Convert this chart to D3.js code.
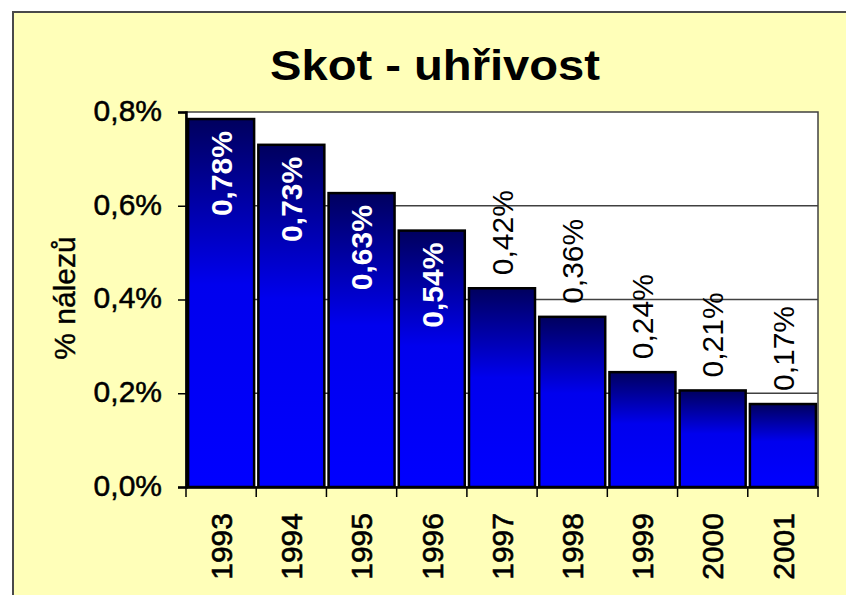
<!DOCTYPE html>
<html>
<head>
<meta charset="utf-8">
<script src="https://cdn.jsdelivr.net/npm/d3@7"></script>
<style>
  body { margin: 0; background: #fff; }
  svg { display: block; font-family: "Liberation Sans", Arial, sans-serif; }
</style>
</head>
<body>
<svg id="chart"></svg>
<script>
let years = ['1993', '1994', '1995', '1996', '1997', '1998', '1999', '2000', '2001']
let values = [0.785, 0.73, 0.627, 0.547, 0.424, 0.363, 0.245, 0.206, 0.177]
let valueLabels = ['0,78%', '0,73%', '0,63%', '0,54%', '0,42%', '0,36%', '0,24%', '0,21%', '0,17%']
let yTicks = [0, 0.2, 0.4, 0.6, 0.8]
let yTickLabels = ['0,0%', '0,2%', '0,4%', '0,6%', '0,8%']
let insideCount = 4

let width = 846
let height = 595
let plot = { left: 186, right: 818, top: 112, bottom: 487 }

let svg = d3.select('#chart')
  .attr('width', width)
  .attr('height', height)

// frame
svg.append('rect')
  .attr('x', 13).attr('y', 12)
  .attr('width', 860).attr('height', 620)
  .attr('fill', '#ffffb9')
  .attr('stroke', '#4a4a4a')
  .attr('stroke-width', 2)

let defs = svg.append('defs')
let grad = defs.append('linearGradient')
  .attr('id', 'barGrad')
  .attr('x1', 0).attr('y1', 0).attr('x2', 0).attr('y2', 1)
grad.append('stop').attr('offset', '0%').attr('stop-color', '#00005e')
grad.append('stop').attr('offset', '45%').attr('stop-color', '#0000ee')
grad.append('stop').attr('offset', '100%').attr('stop-color', '#0000ff')

let xScale = d3.scaleBand()
  .domain(years)
  .range([plot.left, plot.right])
  .paddingInner(0.06)
  .paddingOuter(0.03)

let yScale = d3.scaleLinear()
  .domain([0, 0.8])
  .range([plot.bottom, plot.top])

// plot area
svg.append('rect')
  .attr('x', plot.left).attr('y', plot.top)
  .attr('width', plot.right - plot.left)
  .attr('height', plot.bottom - plot.top)
  .attr('fill', '#ffffff')
  .attr('stroke', '#404040')
  .attr('stroke-width', 1.5)

// gridlines
svg.append('g')
  .selectAll('line')
  .data(yTicks.filter(d => d > 0 && d < 0.8))
  .enter()
  .append('line')
  .attr('x1', plot.left).attr('x2', plot.right)
  .attr('y1', d => yScale(d)).attr('y2', d => yScale(d))
  .attr('stroke', '#404040')
  .attr('stroke-width', 1.5)

// bars
svg.append('g')
  .selectAll('rect')
  .data(values)
  .enter()
  .append('rect')
  .attr('x', (d, i) => xScale(years[i]))
  .attr('y', d => yScale(d))
  .attr('width', xScale.bandwidth())
  .attr('height', d => plot.bottom - yScale(d))
  .attr('fill', 'url(#barGrad)')
  .attr('stroke', '#000')
  .attr('stroke-width', 2.5)

// value labels
svg.append('g')
  .selectAll('text')
  .data(values)
  .enter()
  .append('text')
  .attr('transform', (d, i) => {
    let cx = xScale(years[i]) + xScale.bandwidth() / 2
    let y = i < insideCount ? yScale(d) + 12 : yScale(d) - 13
    return 'translate(' + cx + ',' + y + ') rotate(-90)'
  })
  .attr('dy', '0.36em')
  .attr('text-anchor', (d, i) => i < insideCount ? 'end' : 'start')
  .attr('font-size', 30)
  .attr('font-weight', (d, i) => i < insideCount ? 'bold' : 'normal')
  .attr('fill', (d, i) => i < insideCount ? '#fff' : '#000')
  .text((d, i) => valueLabels[i])

// y axis
let yAxis = d3.axisLeft(yScale)
  .tickValues(yTicks)
  .tickFormat((d, i) => yTickLabels[i])
  .tickSize(8)
  .tickPadding(16)

let gy = svg.append('g')
  .attr('transform', 'translate(' + plot.left + ',0)')
  .call(yAxis)
gy.select('.domain').attr('stroke', '#000').attr('stroke-width', 2.5)
gy.selectAll('.tick line').attr('stroke', '#000').attr('stroke-width', 1.5)
gy.selectAll('.tick text')
  .attr('font-size', 30)
  .attr('font-family', '"Liberation Sans", Arial, sans-serif')
  .attr('fill', '#000')
  .attr('stroke', '#000')
  .attr('stroke-width', 0.5)
  .attr('dy', '0.28em')

// x axis
let xAxis = d3.axisBottom(xScale).tickSize(0).tickFormat('')
let gx = svg.append('g')
  .attr('transform', 'translate(0,' + plot.bottom + ')')
  .call(xAxis)
gx.select('.domain').attr('stroke', '#000').attr('stroke-width', 2.5)

let boundaries = years.map((d, i) => plot.left + i * (plot.right - plot.left) / years.length)
boundaries.push(plot.right)
gx.selectAll('.bound')
  .data(boundaries)
  .enter()
  .append('line')
  .attr('x1', d => d).attr('x2', d => d)
  .attr('y1', 0).attr('y2', 10)
  .attr('stroke', '#000')
  .attr('stroke-width', 1.5)

svg.append('g')
  .selectAll('text')
  .data(years)
  .enter()
  .append('text')
  .attr('transform', d => 'translate(' + (xScale(d) + xScale.bandwidth() / 2) + ',' + 513 + ') rotate(-90)')
  .attr('dy', '0.36em')
  .attr('text-anchor', 'end')
  .attr('font-size', 30)
  .attr('fill', '#000')
  .attr('stroke', '#000')
  .attr('stroke-width', 0.6)
  .text(d => d)

// axis title
svg.append('text')
  .attr('transform', 'translate(75,298) rotate(-90)')
  .attr('text-anchor', 'middle')
  .attr('font-size', 30)
  .attr('fill', '#000')
  .attr('stroke', '#000')
  .attr('stroke-width', 0.4)
  .text('% nálezů')

// title
svg.append('text')
  .attr('x', 270)
  .attr('y', 80)
  .attr('font-size', 43)
  .attr('font-weight', 'bold')
  .attr('textLength', 330)
  .attr('lengthAdjust', 'spacingAndGlyphs')
  .attr('fill', '#000')
  .text('Skot - uhřivost')
</script>
</body>
</html>
